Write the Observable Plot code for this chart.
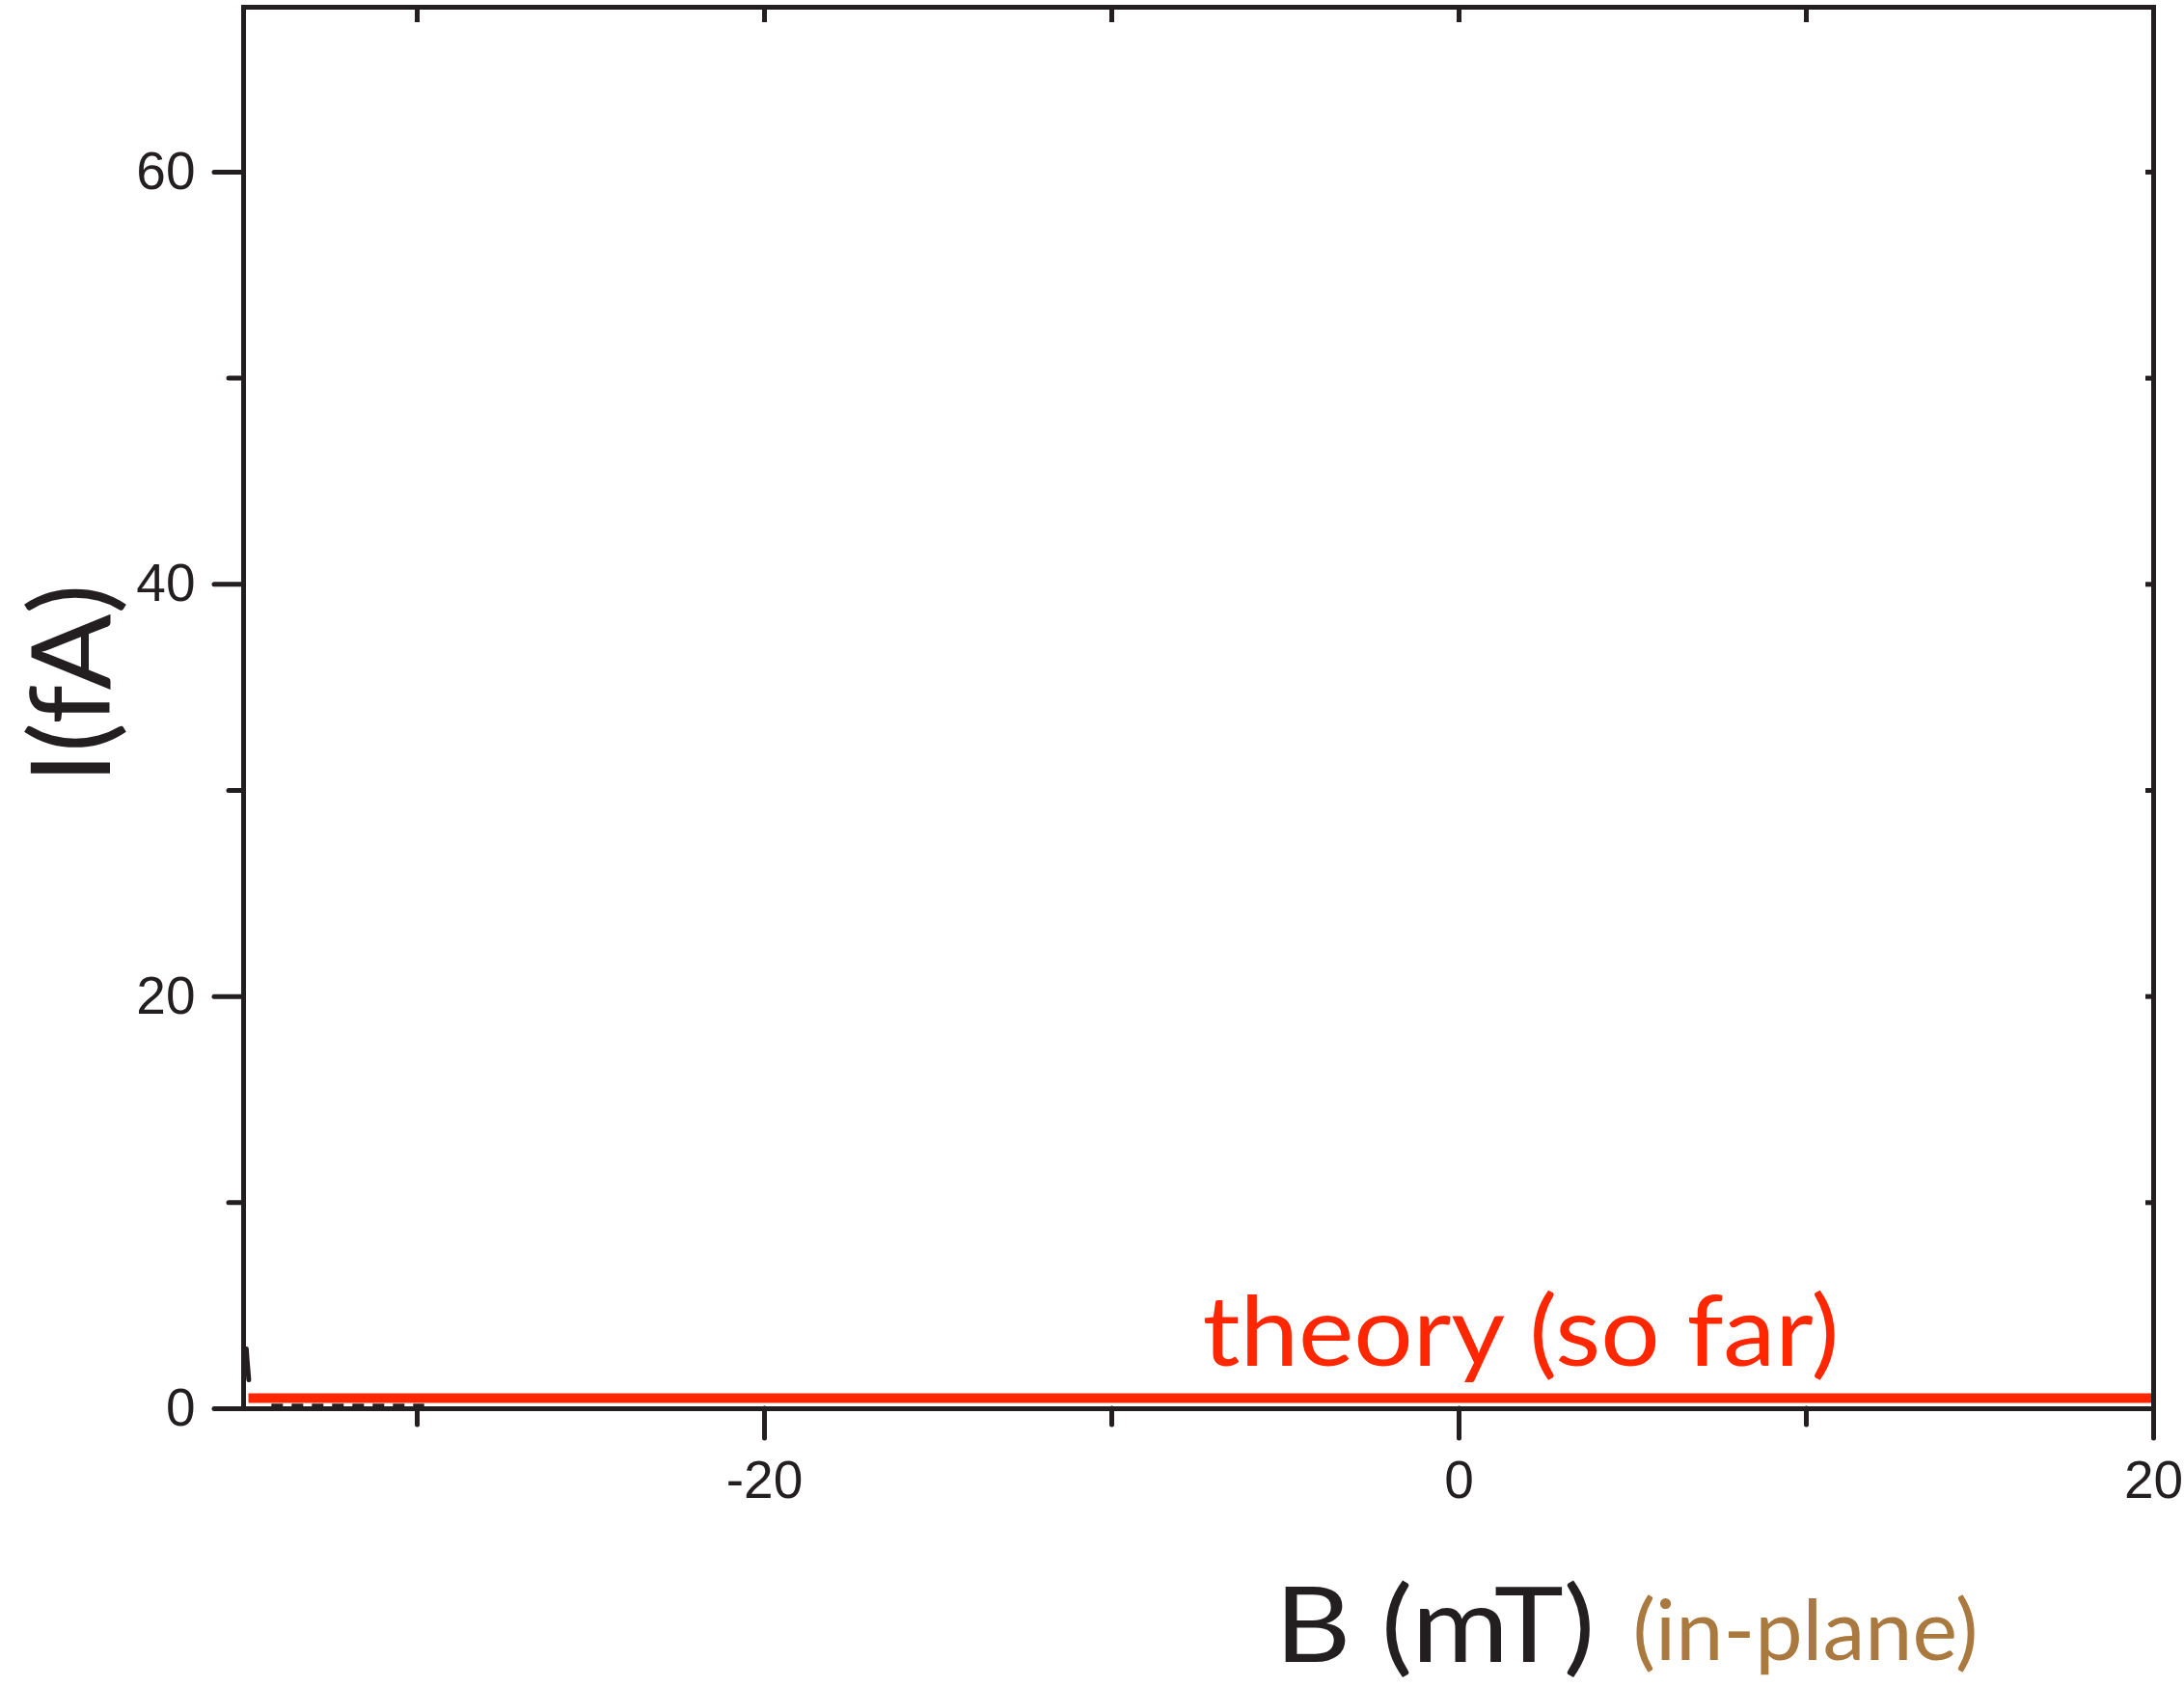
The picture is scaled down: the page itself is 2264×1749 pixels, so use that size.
<!DOCTYPE html>
<html>
<head>
<meta charset="utf-8">
<script src="https://cdn.jsdelivr.net/npm/d3@7"></script>
<script src="https://cdn.jsdelivr.net/npm/@observablehq/plot@0.6"></script>
<style>
  html, body { margin: 0; padding: 0; background: #fff; }
  #chart { width: 2264px; height: 1749px; overflow: hidden; }
</style>
</head>
<body>
<div id="chart"></div>
<script>
// ---- data ----
const theoryX = [-34.86, 20];
const theoryY = [0.51, 0.51];
const spikeX = [-34.92, -34.9, -34.88, -34.86, -34.85];
const spikeY = [2.9, 2.4, 2.0, 1.6, 1.4];
const floorX = [-34.2, -29.8];
const floorY = [0.18, 0.18];

const xMajorTicks = [-20, 0, 20];
const xMinorTicks = [-30, -10, 10];
const xAllTicks = [-30, -20, -10, 0, 10, 20];
const yMajorTicks = [0, 20, 40, 60];
const yMinorTicks = [10, 30, 50];
const yAllTicks = [0, 10, 20, 30, 40, 50, 60];

const theoryLabel = ["theory (so far)"];
const xLabel = ["B (mT)"];
const xNote = ["(in-plane)"];
const yLabel = ["I(fA)"];

// ---- layout ----
const W = 2264, H = 1749;
const mL = 252, mR = 32, mT = 7, mB = 289;
const frameW = W - mL - mR, frameH = H - mT - mB;
const ink = "#231f20";
const red = "#ff2600";
const brown = "#a9793f";
const sw = 5;
const fmt = d => String(d);
const labelFont = "Lato, 'Open Sans', sans-serif";

const plot = Plot.plot({
  width: W,
  height: H,
  marginLeft: mL, marginRight: mR, marginTop: mT, marginBottom: mB,
  style: {fontFamily: "'Liberation Sans', Arial, sans-serif", fontSize: "55px", color: ink, background: "#fff"},
  x: {domain: [-35, 20], axis: null},
  y: {domain: [0, 68], axis: null},
  marks: [
    // bottom axis
    Plot.axisX({anchor: "bottom", ticks: xMajorTicks, tickSize: 31, tickPadding: 22, tickFormat: fmt, label: null, stroke: ink, strokeWidth: sw, strokeLinecap: "round", fill: ink, fontSize: 55}),
    Plot.axisX({anchor: "bottom", ticks: xMinorTicks, tickSize: 17, tickFormat: () => "", label: null, stroke: ink, strokeWidth: sw, strokeLinecap: "round"}),
    // left axis
    Plot.axisY({anchor: "left", ticks: yMajorTicks, tickSize: 30, tickPadding: 20, tickFormat: fmt, label: null, stroke: ink, strokeWidth: sw, strokeLinecap: "round", fill: ink, fontSize: 55}),
    Plot.axisY({anchor: "left", ticks: yMinorTicks, tickSize: 15, tickFormat: () => "", label: null, stroke: ink, strokeWidth: sw, strokeLinecap: "round"}),
    // inward ticks on top and right
    Plot.tickX(xAllTicks, {x: d => d, insetBottom: frameH - 16, stroke: ink, strokeWidth: sw}),
    Plot.tickY(yAllTicks, {y: d => d, insetLeft: frameW - 8, stroke: ink, strokeWidth: sw}),
    // measured data (barely visible)
    Plot.line(floorX.map((x, i) => ({x, y: floorY[i]})), {x: "x", y: "y", stroke: ink, strokeWidth: 3, strokeDasharray: "12,9", strokeLinecap: "butt"}),
    Plot.line(spikeX.map((x, i) => ({x, y: spikeY[i]})), {x: "x", y: "y", stroke: ink, strokeWidth: 5}),
    // theory line
    Plot.line(theoryX.map((x, i) => ({x, y: theoryY[i]})), {x: "x", y: "y", stroke: red, strokeWidth: 10, strokeLinecap: "butt"}),
    Plot.frame({stroke: ink, strokeWidth: sw}),
    // annotation
    Plot.text(theoryLabel, {text: d => d, frameAnchor: "bottom-left", dx: 994, dy: -45, textAnchor: "start", lineAnchor: "bottom", fill: red, fontSize: 100, fontFamily: labelFont}),
    // axis labels
    Plot.text(xLabel, {text: d => d, frameAnchor: "bottom-left", dx: 1069, dy: 262, textAnchor: "start", lineAnchor: "bottom", fill: ink, fontSize: 108, fontFamily: labelFont}),
    Plot.text(xNote, {text: d => d, frameAnchor: "bottom-left", dx: 1440, dy: 260, textAnchor: "start", lineAnchor: "bottom", fill: brown, fontSize: 88, fontFamily: labelFont}),
    Plot.text(yLabel, {text: d => d, frameAnchor: "left", dx: -139, dy: -25, rotate: -90, textAnchor: "middle", lineAnchor: "bottom", fill: ink, fontSize: 114, fontFamily: labelFont})
  ]
});

document.getElementById("chart").appendChild(plot);

// stretch label texts to the reference widths
const lengths = {"theory (so far)": 660, "B (mT)": 332, "(in-plane)": 358, "I(fA)": 207};
d3.select(plot).selectAll("text").each(function() {
  const t = this.textContent;
  if (lengths[t]) {
    d3.select(this).attr("textLength", lengths[t]).attr("lengthAdjust", "spacingAndGlyphs");
  }
});
</script>
</body>
</html>
